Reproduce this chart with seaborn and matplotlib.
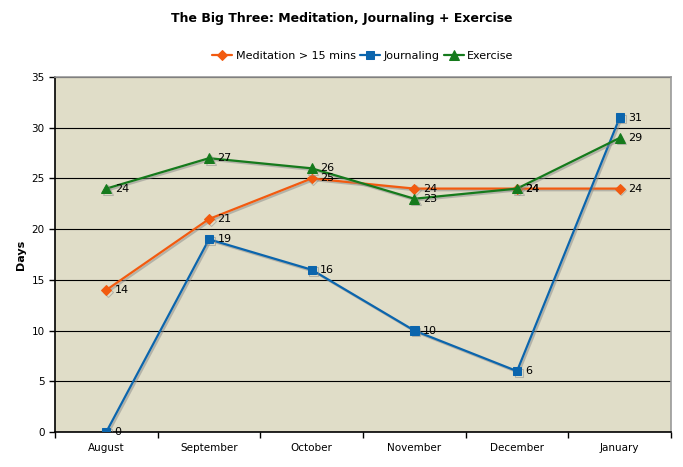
import pandas as pd
import seaborn as sns
import matplotlib
matplotlib.use("Agg")
import matplotlib.pyplot as plt
import matplotlib.patheffects as pe

months = ["August", "September", "October", "November", "December", "January"]
meditation = [14, 21, 25, 24, 24, 24]
journaling = [0, 19, 16, 10, 6, 31]
exercise = [24, 27, 26, 23, 24, 29]

series = [
    ("Meditation > 15 mins", meditation, "#f25a0f", "D", 5),
    ("Journaling", journaling, "#0b65ad", "s", 6),
    ("Exercise", exercise, "#157a1c", "^", 7),
]

sns.set_style("white")
plt.rcParams["font.family"] = ["DejaVu Sans"]
plt.rcParams["text.color"] = "black"
plt.rcParams["axes.labelcolor"] = "black"
plt.rcParams["xtick.color"] = "black"
plt.rcParams["ytick.color"] = "black"

fig = plt.figure(figsize=(6.83, 4.67), dpi=100)
ax = fig.add_axes([0.0805, 0.075, 0.902, 0.76])
ax.set_facecolor("#e0ddc8")

xs = list(range(len(months)))
shadow = [pe.SimpleLineShadow(offset=(1.2, -1.2), shadow_color="#888888", alpha=0.5), pe.Normal()]

for name, vals, color, marker, ms in series:
    df = pd.DataFrame({"x": xs, "y": vals})
    sns.lineplot(data=df, x="x", y="y", ax=ax, color=color, marker=marker,
                 markersize=ms, markeredgecolor=color, linewidth=1.6, label=name,
                 sort=False, path_effects=shadow, zorder=3)
    for x, v in zip(xs, vals):
        ax.annotate(str(v), (x, v), xytext=(6, 0), textcoords="offset points",
                    fontsize=8, color="black", va="center", zorder=4)

ax.set_xlim(-0.5, 5.5)
ax.set_ylim(0, 35)
ax.set_yticks(range(0, 36, 5))
ax.yaxis.grid(True, color="black", linewidth=0.8)
ax.set_axisbelow(True)
ax.set_xticks(xs)
ax.set_xticklabels(months, fontsize=7.5)
ax.set_xticks([i - 0.5 for i in range(len(months) + 1)], minor=True)
ax.tick_params(axis="x", which="major", length=0, pad=8)
ax.tick_params(axis="x", which="minor", length=4, width=1, color="black", direction="out", bottom=True)
ax.tick_params(axis="y", labelsize=7.5, length=4, width=1, color="black", direction="out", left=True)
ax.set_xlabel("")
ax.set_ylabel("Days", fontsize=8, fontweight="bold")

for side in ["left", "bottom"]:
    ax.spines[side].set_color("black")
    ax.spines[side].set_linewidth(1.2)
for side in ["top", "right"]:
    ax.spines[side].set_color("#9a9a9a")
    ax.spines[side].set_linewidth(1.2)

leg = ax.legend(loc="center", bbox_to_anchor=(0.5, 1.06), ncol=3, frameon=False,
                fontsize=8, handlelength=1.8, handletextpad=0.3, columnspacing=0.4)
for h in leg.get_lines():
    h.set_path_effects([])

fig.suptitle("The Big Three: Meditation, Journaling + Exercise", x=0.5, y=0.975,
             fontsize=9, fontweight="bold")

fig.savefig("out.png", dpi=100, facecolor="white")
